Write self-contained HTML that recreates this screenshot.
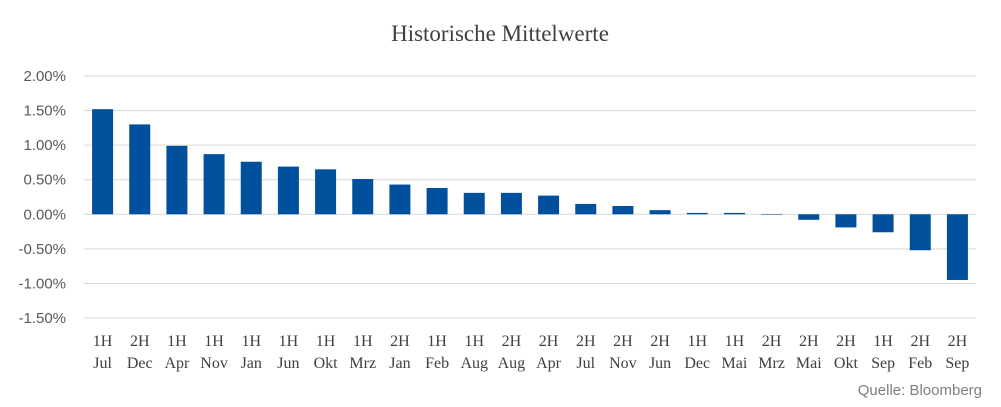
<!DOCTYPE html>
<html><head><meta charset="utf-8"><style>
body{margin:0;background:#fff;}
svg{display:block;}
</style></head><body>
<svg width="1001" height="407" viewBox="0 0 1001 407">
<text x="500" y="41" text-anchor="middle" font-family="Liberation Serif, serif" font-size="23" fill="#404040">Historische Mittelwerte</text>
<g id="grid"></g><g id="bars"></g><g id="xl"></g>
<text x="982" y="395" text-anchor="end" font-family="Liberation Sans, sans-serif" font-size="15" fill="#7f7f7f">Quelle: Bloomberg</text>
</svg>
<script>
const halves=["1H","2H","1H","1H","1H","1H","1H","1H","2H","1H","1H","2H","2H","2H","2H","2H","1H","1H","2H","2H","2H","1H","2H","2H"];
const months=["Jul","Dec","Apr","Nov","Jan","Jun","Okt","Mrz","Jan","Feb","Aug","Aug","Apr","Jul","Nov","Jun","Dec","Mai","Mrz","Mai","Okt","Sep","Feb","Sep"];
const values=[1.52,1.30,0.99,0.87,0.76,0.69,0.65,0.51,0.43,0.38,0.31,0.31,0.27,0.15,0.12,0.06,0.02,0.02,0.00,-0.08,-0.19,-0.26,-0.52,-0.95];
const ticks=[2.0,1.5,1.0,0.5,0.0,-0.5,-1.0,-1.5];
const NS="http://www.w3.org/2000/svg";
const x0=84,x1=976,yTop=76,yBot=318,vMax=2.0,vMin=-1.5;
const y=v=>yTop+(vMax-v)/(vMax-vMin)*(yBot-yTop);
const step=(x1-x0)/values.length;
const xc=i=>x0+step*(i+0.5);
const grid=document.getElementById('grid'),bars=document.getElementById('bars'),xl=document.getElementById('xl');
ticks.forEach(t=>{
  const l=document.createElementNS(NS,'line');
  
  
  l.setAttribute('x1',x0);l.setAttribute('x2',x1);l.setAttribute('y1',y(t));l.setAttribute('y2',y(t));
  l.setAttribute('stroke','#d9d9d9');l.setAttribute('stroke-width','1');
  grid.appendChild(l);
  const tx=document.createElementNS(NS,'text');
  
  
  tx.setAttribute('x',66);tx.setAttribute('y',y(t)+5);tx.setAttribute('text-anchor','end');
  tx.setAttribute('font-family','Liberation Sans, sans-serif');tx.setAttribute('font-size','15');tx.setAttribute('fill','#595959');
  tx.textContent=t.toFixed(2)+'%';
  grid.appendChild(tx);
});
values.forEach((v,i)=>{
  const r=document.createElementNS(NS,'rect');
  
  
  const top=Math.min(y(v),y(0)),h=Math.max(Math.abs(y(v)-y(0)),0.5);
  r.setAttribute('x',xc(i)-10.5);r.setAttribute('y',top);r.setAttribute('width',21);r.setAttribute('height',h);
  r.setAttribute('fill','#00509e');
  bars.appendChild(r);
  [halves[i],months[i]].forEach((s,k)=>{
    const t=document.createElementNS(NS,'text');
    
    
    t.setAttribute('x',xc(i));t.setAttribute('y',346+k*22);t.setAttribute('text-anchor','middle');
    t.setAttribute('font-family','Liberation Serif, serif');t.setAttribute('font-size','16');t.setAttribute('fill','#404040');
    t.textContent=s;
    xl.appendChild(t);
  });
});
</script>
</body></html>
